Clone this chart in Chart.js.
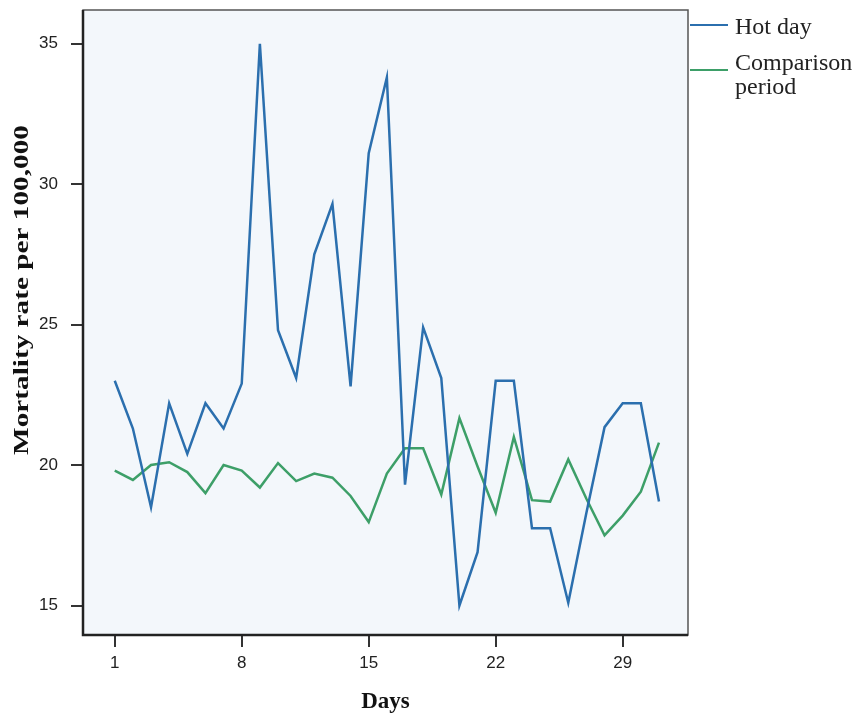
<!DOCTYPE html>
<html>
<head>
<meta charset="utf-8">
<script src="https://cdn.jsdelivr.net/npm/chart.js@4/dist/chart.umd.min.js"></script>
<style>
  body { margin: 0; background: #fff; }
  #wrap { position: relative; width: 860px; height: 720px; }
  .legend-line { position: absolute; left: 690px; width: 38px; height: 0; border-top: 2.5px solid; }
  .legend-text { position: absolute; left: 735px; font: 24px "Liberation Serif", "DejaVu Serif", serif; color: #222; line-height: 24px; }
</style>
</head>
<body>
<div id="wrap">
  <canvas id="chart" width="860" height="720"></canvas>
  <div class="legend-line" style="top:24px;border-color:#2b6fae"></div>
  <div class="legend-text" style="top:14px">Hot day</div>
  <div class="legend-line" style="top:69px;border-color:#3d9f68"></div>
  <div class="legend-text" style="top:50px">Comparison<br>period</div>
</div>
<script>
const days = [1, 2, 3, 4, 5, 6, 7, 8, 9, 10, 11, 12, 13, 14, 15, 16, 17, 18, 19, 20, 21, 22, 23, 24, 25, 26, 27, 28, 29, 30, 31];
const hotDay = [23.0, 21.3, 18.5, 22.2, 20.4, 22.2, 21.3, 22.9, 35.0, 24.8, 23.1, 27.5, 29.3, 22.8, 31.1, 33.8, 19.3, 24.9, 23.1, 15.0, 16.9, 23.0, 23.0, 17.75, 17.75, 15.1, 18.3, 21.35, 22.2, 22.2, 18.7];
const comparison = [19.8, 19.47, 20.0, 20.1, 19.75, 19.0, 20.0, 19.8, 19.2, 20.07, 19.43, 19.7, 19.55, 18.9, 17.97, 19.7, 20.6, 20.6, 18.95, 21.67, 19.95, 18.3, 21.0, 18.75, 18.7, 20.2, 18.8, 17.5, 18.2, 19.05, 20.8];
const xTicks = [1, 8, 15, 22, 29];
const yTicks = [15, 20, 25, 30, 35];

// Plot background, frame and rotated y title
const framePlugin = {
  id: 'frame',
  beforeDraw(chart) {
    const { ctx, chartArea: a } = chart;
    ctx.save();
    ctx.fillStyle = '#f3f7fb';
    ctx.fillRect(a.left, a.top, a.right - a.left, a.bottom - a.top);
    ctx.restore();
  },
  afterDraw(chart) {
    const { ctx, chartArea: a } = chart;
    ctx.save();
    ctx.strokeStyle = '#555';
    ctx.lineWidth = 1.5;
    ctx.strokeRect(a.left, a.top, a.right - a.left, a.bottom - a.top);
    ctx.strokeStyle = '#222';
    ctx.lineWidth = 2.5;
    ctx.beginPath();
    ctx.moveTo(a.left, a.top);
    ctx.lineTo(a.left, a.bottom);
    ctx.lineTo(a.right, a.bottom);
    ctx.stroke();

    // y title, stretched along its length like the original
    ctx.translate(22, 290);
    ctx.rotate(-Math.PI / 2);
    ctx.scale(1.33, 1);
    ctx.font = 'bold 22px "Liberation Serif", "DejaVu Serif", serif';
    ctx.fillStyle = '#111';
    ctx.textAlign = 'center';
    ctx.textBaseline = 'middle';
    ctx.fillText('Mortality rate per 100,000', 0, 0);
    ctx.restore();
  }
};

const ctx = document.getElementById('chart').getContext('2d');
new Chart(ctx, {
  type: 'line',
  data: {
    datasets: [
      {
        label: 'Hot day',
        data: days.map((d, i) => ({ x: d, y: hotDay[i] })),
        borderColor: '#2b6fae',
        borderWidth: 2.5,
        pointRadius: 0,
        tension: 0
      },
      {
        label: 'Comparison period',
        data: days.map((d, i) => ({ x: d, y: comparison[i] })),
        borderColor: '#3d9f68',
        borderWidth: 2.5,
        pointRadius: 0,
        tension: 0
      }
    ]
  },
  options: {
    responsive: false,
    animation: false,
    layout: { autoPadding: false, padding: { top: 10, right: 172, left: 0, bottom: 0 } },
    plugins: {
      legend: { display: false },
      tooltip: { enabled: false }
    },
    scales: {
      x: {
        type: 'linear',
        min: -0.75,
        max: 32.6,
        afterBuildTicks: scale => { scale.ticks = xTicks.map(v => ({ value: v })); },
        afterFit: scale => {
          scale.height = 85;
          scale.paddingLeft = 0;
          scale.paddingRight = 0;
        },
        grid: { drawOnChartArea: false, drawTicks: true, tickLength: 12, color: '#333', lineWidth: 2 },
        border: { display: false },
        ticks: {
          padding: 6,
          color: '#222',
          maxRotation: 0,
          font: { family: '"Liberation Sans", Arial, sans-serif', size: 17 }
        },
        title: {
          display: true,
          text: 'Days',
          color: '#111',
          padding: { top: 0, bottom: 4 },
          font: { family: '"Liberation Serif", "DejaVu Serif", serif', size: 23, weight: 'bold' }
        }
      },
      y: {
        min: 13.95,
        max: 36.2,
        afterBuildTicks: scale => { scale.ticks = yTicks.map(v => ({ value: v })); },
        afterFit: scale => {
          scale.width = 83;
          scale.paddingTop = 0;
          scale.paddingBottom = 0;
        },
        grid: { drawOnChartArea: false, drawTicks: true, tickLength: 12, color: '#333', lineWidth: 2 },
        border: { display: false },
        ticks: {
          padding: 13,
          color: '#222',
          font: { family: '"Liberation Sans", Arial, sans-serif', size: 17 }
        }
      }
    }
  },
  plugins: [framePlugin]
});
</script>
</body>
</html>
